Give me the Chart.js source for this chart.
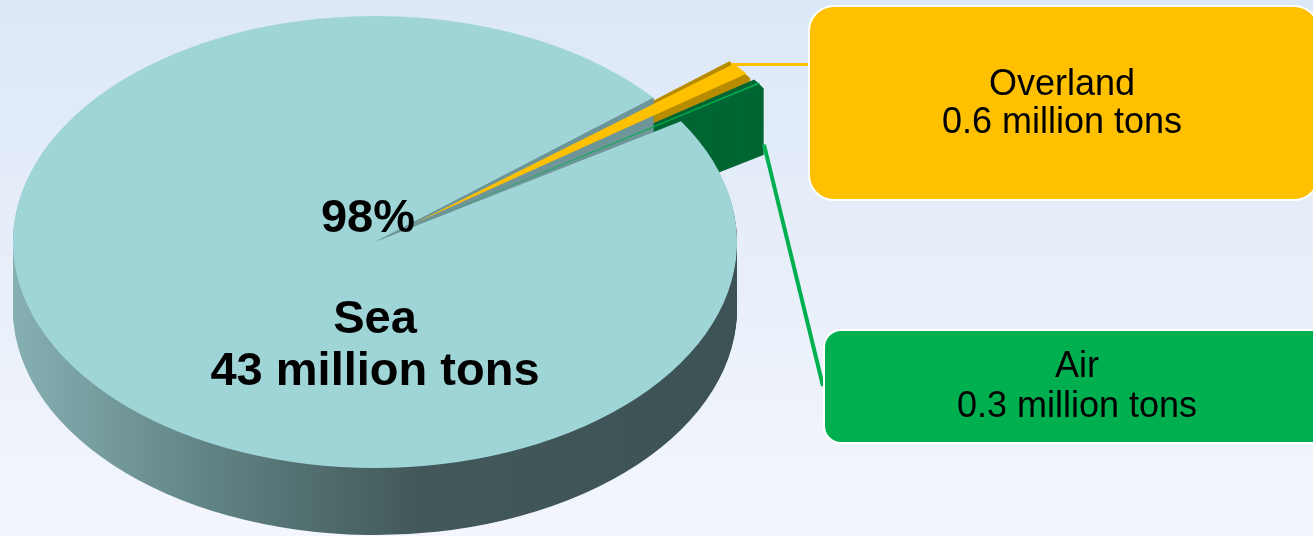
<!DOCTYPE html>
<html><head><meta charset="utf-8"><title>Transport mode</title>
<script src="https://cdn.jsdelivr.net/npm/chart.js@4.4.1/dist/chart.umd.min.js"></script>
<style>
html,body{margin:0;padding:0}
body{width:1313px;height:536px;overflow:hidden;position:relative;background:linear-gradient(180deg,#dce8f8 0%,#e7eef9 45%,#f3f6fc 100%);font-family:"Liberation Sans",Arial,Helvetica,sans-serif}
#wrap{position:absolute;left:0;top:0;width:1313px;height:536px}
.box{position:absolute;box-sizing:border-box;border:2px solid #fff}
.t{position:absolute;width:600px;text-align:center;color:#000;white-space:nowrap}
.n{font-size:36px;line-height:40px}
.b{font-size:47px;line-height:52px;font-weight:bold}
</style></head><body>
<div id="wrap"><canvas id="c"></canvas></div>
<div class="box" style="left:808px;top:5px;width:512px;height:196px;border-radius:26px;background:#ffc000"></div>
<div class="box" style="left:823px;top:329px;width:512px;height:115px;border-radius:18px;background:#00b050"></div>
<div class="t n" id="o1" style="left:762px;top:63px"></div>
<div class="t n" id="o2" style="left:762px;top:101px"></div>
<div class="t n" id="a1" style="left:777px;top:345px"></div>
<div class="t n" id="a2" style="left:777px;top:385px"></div>
<div class="t b" id="pct" style="left:68px;top:190px"></div>
<div class="t b" id="s1" style="left:75px;top:291px"></div>
<div class="t b" id="s2" style="left:75px;top:343px"></div>
<script>
// ---- data ----
const categories = ['Sea', 'Overland', 'Air'];
const values = [43, 0.6, 0.3];           // million tons
const unit = 'million tons';

// ---- styles / layout ----
const topColors = ['#a0d5d8', '#ffc000', '#00b050'];
const sideColors = [null, '#b98c00', '#006633'];
const cutColor = '#6e9597';
const CX = 375, CY = 242, RX = 362, RY = 226, DEPTH = 67;

const total = values.reduce((a, b) => a + b, 0);
document.getElementById('pct').textContent = Math.round(values[0] / total * 100) + '%';
document.getElementById('s1').textContent = categories[0];
document.getElementById('s2').textContent = values[0] + ' ' + unit;
document.getElementById('o1').textContent = categories[1];
document.getElementById('o2').textContent = values[1] + ' ' + unit;
document.getElementById('a1').textContent = categories[2];
document.getElementById('a2').textContent = values[2] + ' ' + unit;

function frame(meta) {
  const e = meta.data[0];
  return { x0: e.x, y0: e.y, sx: RX / e.outerRadius, sy: RY / e.outerRadius };
}
function applyT(ctx, f, dy) {
  ctx.translate(CX, CY + dy); ctx.scale(f.sx, f.sy); ctx.translate(-f.x0, -f.y0);
}
function geo(el) {
  const o = (el.options.offset || 0) / 4;
  const mid = (el.startAngle + el.endAngle) / 2;
  const fix = 1 - Math.sin(Math.min(Math.PI, el.circumference || 0));
  return { x: el.x + Math.cos(mid) * o, y: el.y + Math.sin(mid) * o, r: el.outerRadius + o * fix,
           s: el.startAngle, e: el.endAngle, mid };
}
function toScreen(f, px, py, dy) {
  return [CX + f.sx * (px - f.x0), CY + dy + f.sy * (py - f.y0)];
}

const pie3d = {
  id: 'pie3d',
  beforeDatasetsDraw(chart) {
    const ctx = chart.ctx, meta = chart.getDatasetMeta(0), f = frame(meta);
    const grad = ctx.createLinearGradient(CX - RX, 0, CX + RX, 0);
    grad.addColorStop(0, '#86b0b2');
    grad.addColorStop(0.258, '#638587');
    grad.addColorStop(0.424, '#506c6d');
    grad.addColorStop(0.562, '#42585a');
    grad.addColorStop(1, '#3d5255');
    for (const i of [1, 2, 0]) {
      const g = geo(meta.data[i]);
      ctx.fillStyle = i === 0 ? grad : sideColors[i];
      for (let d = DEPTH; d >= 1; d--) {
        ctx.save();
        applyT(ctx, f, d);
        ctx.beginPath();
        ctx.moveTo(g.x, g.y);
        ctx.arc(g.x, g.y, g.r, g.s, g.e);
        ctx.closePath();
        ctx.restore();
        ctx.fill();
      }
    }
    // visible radial cut face of the Sea slice (its end edge)
    const gs = geo(meta.data[0]);
    const c0 = toScreen(f, gs.x, gs.y, 0);
    const r0 = toScreen(f, gs.x + gs.r * Math.cos(gs.e), gs.y + gs.r * Math.sin(gs.e), 0);
    ctx.save();
    ctx.fillStyle = cutColor;
    ctx.beginPath();
    ctx.moveTo(c0[0], c0[1]); ctx.lineTo(r0[0], r0[1]);
    ctx.lineTo(r0[0], r0[1] + DEPTH); ctx.lineTo(c0[0], c0[1] + DEPTH);
    ctx.closePath(); ctx.fill();
    ctx.restore();
    ctx.save();
    applyT(ctx, f, 0);
  },
  afterDatasetsDraw(chart) {
    const ctx = chart.ctx;
    ctx.restore();
    const meta = chart.getDatasetMeta(0), f = frame(meta);
    // Overland leader
    const go = geo(meta.data[1]);
    const ao = (go.s + go.mid) / 2;
    const po = toScreen(f, go.x + go.r * Math.cos(ao), go.y + go.r * Math.sin(ao), 0);
    ctx.save();
    ctx.lineCap = 'butt';
    ctx.strokeStyle = '#ffc000'; ctx.lineWidth = 3;
    ctx.beginPath(); ctx.moveTo(po[0] - 4, po[1]); ctx.lineTo(812, po[1]); ctx.stroke();
    // Air leader
    const ga = geo(meta.data[2]);
    const pa = toScreen(f, ga.x + ga.r * Math.cos(ga.e), ga.y + ga.r * Math.sin(ga.e), DEPTH * 0.85);
    ctx.strokeStyle = '#00b050'; ctx.lineWidth = 4;
    ctx.beginPath(); ctx.moveTo(pa[0], pa[1]); ctx.lineTo(823, 386); ctx.stroke();
    ctx.restore();
  }
};

new Chart(document.getElementById('c'), {
  type: 'pie',
  data: {
    labels: categories,
    datasets: [{
      data: values,
      backgroundColor: topColors,
      borderWidth: 0,
      offset: [0, 117, 117],
      hoverOffset: 0,
      clip: false
    }]
  },
  options: {
    responsive: true,
    maintainAspectRatio: false,
    animation: false,
    events: [],
    rotation: 57.7,
    layout: { padding: 0 },
    plugins: { legend: { display: false }, tooltip: { enabled: false } }
  },
  plugins: [pie3d]
});
</script>
</body></html>
